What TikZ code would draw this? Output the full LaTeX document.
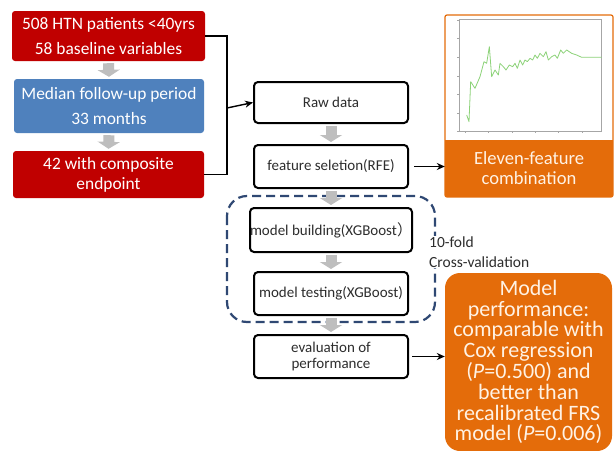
\documentclass[tikz,border=0pt]{standalone}
\usepackage{fontspec}
\setmainfont{Carlito}
\newfontfamily\cjkfont{Noto Sans CJK SC}
\usetikzlibrary{arrows.meta}
\definecolor{cred}{RGB}{192,0,0}
\definecolor{cblue}{RGB}{79,129,189}
\definecolor{corange}{RGB}{228,108,10}
\definecolor{cgray}{RGB}{190,190,190}
\definecolor{cdash}{RGB}{47,72,115}
\definecolor{ctext}{RGB}{45,45,45}
\definecolor{cotext}{RGB}{255,242,228}
\definecolor{cgreen}{RGB}{140,210,120}
\tikzset{
  colbox/.style={rounded corners=3pt, text=white, align=center, inner sep=0pt,
    font=\fontsize{17.4}{25}\selectfont},
  flowbox/.style={draw=black, line width=2pt, rounded corners=4pt, fill=white,
    minimum width=154pt, align=center, inner sep=0pt, text=ctext,
    font=\fontsize{15}{18}\selectfont},
  grayarrow/.style={draw=cgray, line width=11pt,
    -{Triangle[width=22pt,length=7pt]}, shorten <=2pt, shorten >=2pt},
  blackarrow/.style={draw=black, line width=1.4pt, -{Stealth[length=8pt,width=7pt]}},
  bracket/.style={draw=black, line width=1.4pt},
  orangebox/.style={fill=corange, text=cotext, align=center, inner sep=0pt}
}
\begin{document}
\begin{tikzpicture}[x=1pt,y=-1pt]
\useasboundingbox (0,0) rectangle (616,450);
\fill[white] (0,0) rectangle (616,450);

% left column
\node[colbox, fill=cred, minimum width=193pt, minimum height=50pt] (r1) at (108.5,36)
  {508 HTN patients <40yrs\\58 baseline variables};
\node[colbox, fill=cblue, minimum width=190pt, minimum height=54pt] (bl) at (109,106)
  {Median follow-up period\\33 months};
\node[colbox, fill=cred, minimum width=191pt, minimum height=47pt,
  font=\fontsize{17.4}{20}\selectfont] (r3) at (108.5,174.5)
  {42 with composite\\endpoint};
\draw[grayarrow] (r1.south) -- (bl.north);
\draw[grayarrow] (bl.south) -- (r3.north);

% bracket
\coordinate (bx) at (227,108);
\draw[bracket] (r1.east) -| (bx);
\draw[bracket] (r3.east) -| (bx);

% dashed frame
\draw[cdash, line width=2.2pt, dash pattern=on 9pt off 5pt, rounded corners=20pt]
  (227,196) rectangle (435,322);
\node[fill=white, anchor=west, align=left, inner sep=1pt, text=ctext,
  font=\fontsize{15.5}{20}\selectfont] (cv) at (428,252) {10-fold\\Cross-validation};

% centre column
\node[flowbox, minimum height=41pt] (raw) at (331,102.5) {Raw data};
\node[flowbox, minimum height=43pt] (feat) at (331,166.5) {feature seletion(RFE)};
\node[flowbox, minimum height=44pt] (build) at (331,230) {model building(XGBoost{\cjkfont ）}};
\node[flowbox, minimum height=43pt] (test) at (331,293.5) {model testing(XGBoost)};
\node[flowbox, minimum height=43pt, font=\fontsize{15}{16.5}\selectfont] (eval) at (331,356.5)
  {evaluation of\\performance};
\draw[grayarrow] (raw.south) -- (feat.north);
\draw[grayarrow] (feat.south) -- (build.north);
\draw[grayarrow] (build.south) -- (test.north);
\draw[grayarrow] (test.south) -- (eval.north);
\draw[blackarrow] (bx) -- (raw.west);

% chart box
\node[draw=corange, line width=1.2pt, fill=white, minimum width=168pt, minimum height=182pt,
  inner sep=0pt, rounded corners=2pt] (chart) at (529,106) {};
\node[orangebox, minimum width=168pt, minimum height=57pt,
  font=\fontsize{18.6}{20}\selectfont] (eleven) at (529,168.5) {Eleven-feature\\combination};
\begin{scope}[shift={(420,0)}, x=0.33333pt, y=-0.33333pt]
  \draw[gray!70, line width=0.4pt] (118,58) rectangle (545,393);
  \foreach \xx in {135,205,275,345,415,485} \draw[gray!70, line width=0.3pt] (\xx,393) -- (\xx,400);
  \foreach \yy in {60,115,170,228,283,338,393} \draw[gray!70, line width=0.3pt] (118,\yy) -- (111,\yy);
  \draw[cgreen, line width=0.8pt, line join=round]
    (140,345) -- (147,365) -- (152,245) -- (165,265) -- (180,230) -- (192,185) -- (200,190)
    -- (208,140) -- (215,230) -- (225,210) -- (235,225) -- (240,190) -- (250,200) -- (258,210)
    -- (268,195) -- (278,200) -- (285,190) -- (292,205) -- (300,180) -- (308,195) -- (315,180)
    -- (322,185) -- (330,175) -- (338,180) -- (345,165) -- (352,175) -- (360,160) -- (370,170)
    -- (378,155) -- (385,180) -- (395,170) -- (405,165) -- (412,175) -- (422,150) -- (430,160)
    -- (440,150) -- (455,160) -- (470,165) -- (485,172) -- (500,172) -- (520,172) -- (545,172);
\end{scope}

% performance box
\node[orangebox, minimum width=167pt, minimum height=178pt, rounded corners=15pt,
  font=\fontsize{22}{20.8}\selectfont] (perf) at (528.5,362)
  {Model\\performance:\\comparable with\\Cox regression\\(\textit{P}=0.500) and\\better than\\recalibrated FRS\\model (\textit{P}=0.006)};

\path (feat.east) ++(5,0) coordinate (fe);
\draw[blackarrow] (fe) -- (fe -| eleven.west);
\path (eval.east) ++(3,0) coordinate (ee);
\draw[blackarrow] (ee) -- (ee -| perf.west);
\end{tikzpicture}
\end{document}
